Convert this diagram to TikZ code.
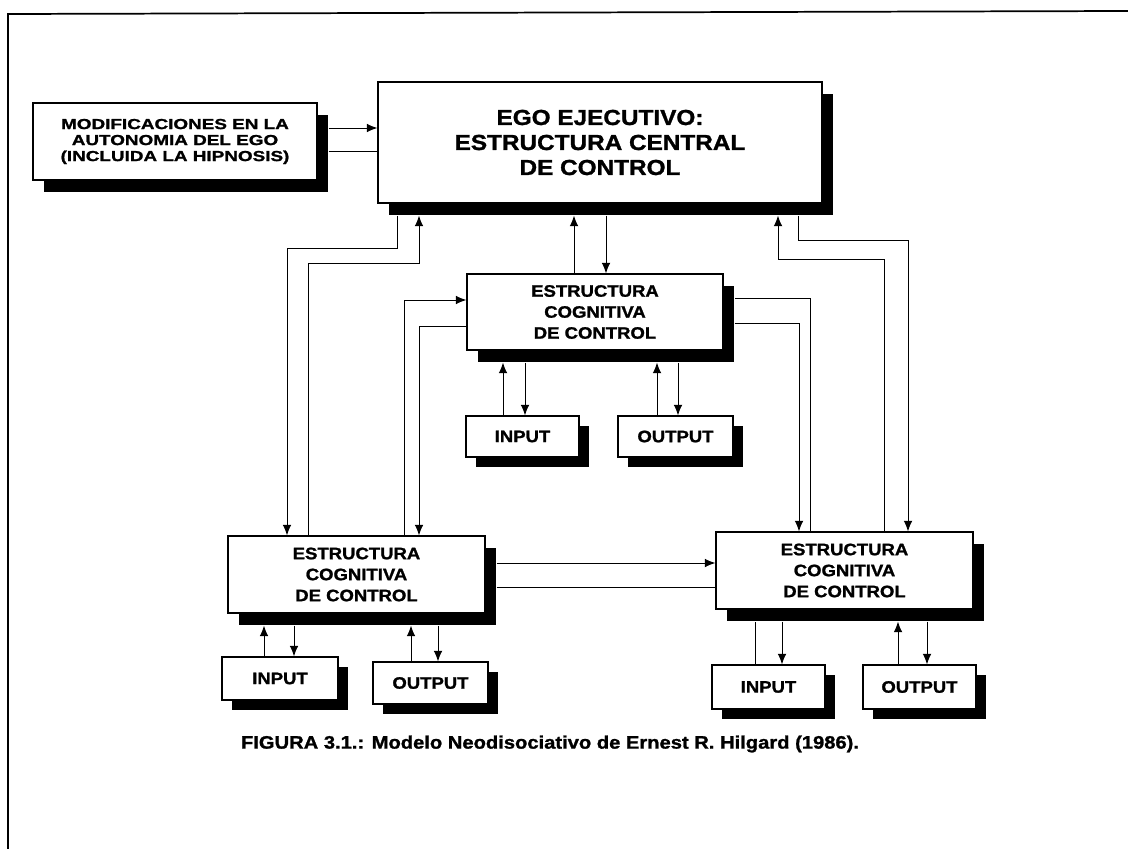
\documentclass[tikz,border=0pt]{standalone}
\usepackage{fontspec}
\setmainfont{Liberation Sans}
\newfontfamily\hv[FakeStretch=1.12, BoldFeatures={FakeBold=1.3}]{Liberation Sans}
\newfontfamily\hvw[FakeStretch=1.3, BoldFeatures={FakeBold=1.3}]{Liberation Sans}
\usetikzlibrary{arrows.meta,calc,shadows}
\tikzset{
  basebox/.style={draw, line width=0.8pt, fill=white, inner sep=0pt, align=center},
  bigbox/.style={basebox, general shadow={fill=black, draw=none, shadow xshift=8.5pt, shadow yshift=-9pt}},
  smallbox/.style={basebox, general shadow={fill=black, draw=none, shadow xshift=7.5pt, shadow yshift=-7.5pt}},
  egofont/.style={font=\hv\bfseries\fontsize{16.3}{18.75}\selectfont},
  ecfont/.style={font=\hv\bfseries\fontsize{12.4}{15.75}\selectfont},
  modfont/.style={font=\hvw\bfseries\fontsize{10.9}{12}\selectfont},
  conn/.style={line width=0.75pt},
  arr/.style={conn, -{Latex[length=8pt,width=6.5pt]}},
}
\begin{document}
\begin{tikzpicture}[x=0.75pt,y=-0.75pt]
\useasboundingbox (0,0) rectangle (1128,849);
% frame
\draw[line width=1.3pt] (8,849) -- (8,14) -- (1128,11);

% boxes
\node[bigbox, modfont, minimum width=213pt, minimum height=57.75pt] (modif) at (175,141.5)
  {MODIFICACIONES EN LA\\AUTONOMIA DEL EGO\\(INCLUIDA LA HIPNOSIS)};
\node[bigbox, egofont, minimum width=333pt, minimum height=90.75pt] (ego) at (600,142.5)
  {EGO EJECUTIVO:\\ESTRUCTURA CENTRAL\\DE CONTROL};
\node[bigbox, ecfont, minimum width=192pt, minimum height=57pt] (mid) at (595,312)
  {ESTRUCTURA\\COGNITIVA\\DE CONTROL};
\node[bigbox, ecfont, minimum width=192.75pt, minimum height=57.75pt] (ecL) at (356.5,574.5)
  {ESTRUCTURA\\COGNITIVA\\DE CONTROL};
\node[bigbox, ecfont, minimum width=192.75pt, minimum height=57.75pt] (ecR) at (844.5,570.5)
  {ESTRUCTURA\\COGNITIVA\\DE CONTROL};
\node[smallbox, ecfont, minimum width=84.75pt, minimum height=30.75pt] (midIn) at (522.5,436.5) {INPUT};
\node[smallbox, ecfont, minimum width=86.25pt, minimum height=30.75pt] (midOut) at (675.5,436.5) {OUTPUT};
\node[smallbox, ecfont, minimum width=87pt, minimum height=32.25pt] (lIn) at (280,678.5) {INPUT};
\node[smallbox, ecfont, minimum width=86.25pt, minimum height=31.5pt] (lOut) at (430.5,683) {OUTPUT};
\node[smallbox, ecfont, minimum width=84.75pt, minimum height=33pt] (rIn) at (768.5,687) {INPUT};
\node[smallbox, ecfont, minimum width=84.75pt, minimum height=33pt] (rOut) at (919.5,687) {OUTPUT};

% caption
\node[font=\hv\bfseries\fontsize{13.5}{16}\selectfont] (cap) at (550,744)
  {FIGURA 3.1.: Modelo Neodisociativo de Ernest R. Hilgard (1986).};

% modif -> ego
\draw[arr] ($(modif.east |- 0,128)+(11,0)$) -- (ego.west |- 0,128);
\draw[conn] ($(modif.east |- 0,151)+(11,0)$) -- (ego.west |- 0,151);

% ego <-> mid
\draw[arr] (574,0 |- mid.north) -- ($(574,0 |- ego.south)+(0,12)$);
\draw[arr] ($(606,0 |- ego.south)+(0,12)$) -- (606,0 |- mid.north);

% ego <-> ecL
\draw[arr] ($(397,0 |- ego.south)+(0,12)$) |- (287,248) -- (287,0 |- ecL.north);
\draw[arr] (308,0 |- ecL.north) |- (419,263) -- ($(419,0 |- ego.south)+(0,12)$);

% mid <-> ecL
\draw[arr] (404,0 |- ecL.north) |- (mid.west |- 0,300);
\draw[arr] (mid.west |- 0,326) -| (419,0 |- ecL.north);

% ego <-> ecR
\draw[arr] ($(798,0 |- ego.south)+(0,12)$) |- (908,240) -- (908,0 |- ecR.north);
\draw[arr] (884,0 |- ecR.north) |- (778,259) -- ($(778,0 |- ego.south)+(0,12)$);

% mid <-> ecR
\draw[conn] (810,0 |- ecR.north) |- ($(mid.east |- 0,298)+(11,0)$);
\draw[arr] ($(mid.east |- 0,323)+(11,0)$) -| (799,0 |- ecR.north);

% ecL <-> ecR
\draw[arr] ($(ecL.east |- 0,563)+(11,0)$) -- (ecR.west |- 0,563);
\draw[conn] ($(ecL.east |- 0,587)+(11,0)$) -- (ecR.west |- 0,587);

% mid inputs/outputs
\draw[arr] (503,0 |- midIn.north) -- ($(503,0 |- mid.south)+(0,12)$);
\draw[arr] ($(525,0 |- mid.south)+(0,12)$) -- (525,0 |- midIn.north);
\draw[arr] (657,0 |- midOut.north) -- ($(657,0 |- mid.south)+(0,12)$);
\draw[arr] ($(678,0 |- mid.south)+(0,12)$) -- (678,0 |- midOut.north);

% ecL inputs/outputs
\draw[arr] (264,0 |- lIn.north) -- ($(264,0 |- ecL.south)+(0,12)$);
\draw[arr] ($(294,0 |- ecL.south)+(0,12)$) -- (294,0 |- lIn.north);
\draw[arr] (411,0 |- lOut.north) -- ($(411,0 |- ecL.south)+(0,12)$);
\draw[arr] ($(438,0 |- ecL.south)+(0,12)$) -- (438,0 |- lOut.north);

% ecR inputs/outputs
\draw[conn] (755,0 |- rIn.north) -- ($(755,0 |- ecR.south)+(0,12)$);
\draw[arr] ($(782,0 |- ecR.south)+(0,12)$) -- (782,0 |- rIn.north);
\draw[arr] (898,0 |- rOut.north) -- ($(898,0 |- ecR.south)+(0,12)$);
\draw[arr] ($(927,0 |- ecR.south)+(0,12)$) -- (927,0 |- rOut.north);
\end{tikzpicture}
\end{document}
